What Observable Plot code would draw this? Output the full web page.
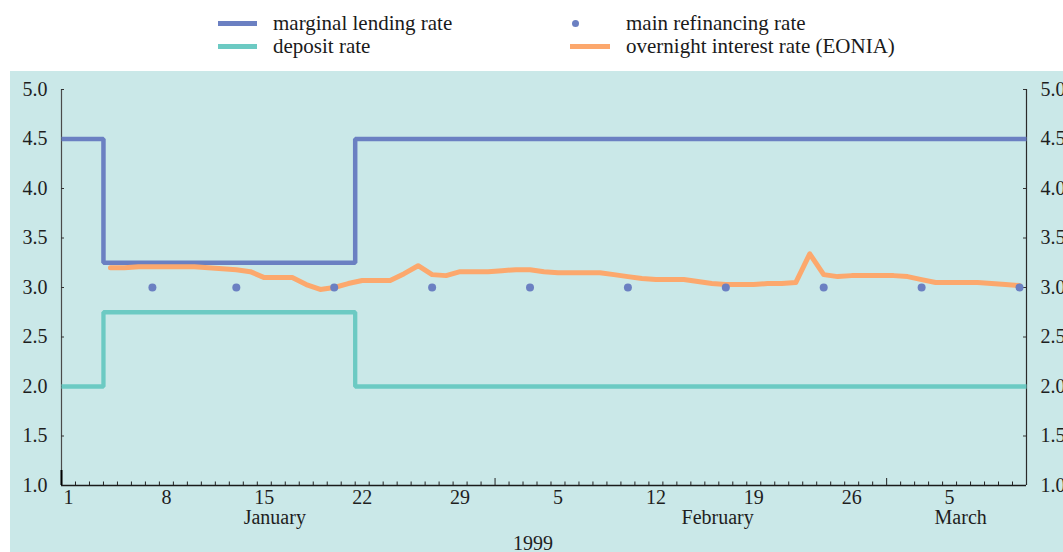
<!DOCTYPE html>
<html><head><meta charset="utf-8">
<script src="https://cdn.jsdelivr.net/npm/d3@7"></script>
<script src="https://cdn.jsdelivr.net/npm/@observablehq/plot@0.6"></script>
<style>
html,body{margin:0;padding:0;background:#fff;width:1063px;height:552px;overflow:hidden;
  font-family:"Liberation Serif","Times New Roman",serif;color:#1a1a1a;}
#wrap{position:relative;width:1063px;height:552px;overflow:hidden;}
.lg{position:absolute;font-size:21px;line-height:21px;white-space:nowrap;}
.sw{position:absolute;}
#title{position:absolute;left:0;top:-25px;font-size:20px;line-height:20px;white-space:nowrap;}
#panel{position:absolute;left:10px;top:71px;width:1053px;height:481px;background:#cae8e8;}
#panel svg{display:block;overflow:visible;}
</style></head>
<body><div id="wrap">
<div id="title">(percentages per annum; daily data)</div>
<div id="legend"></div>
<div id="panel"></div>
</div>
<script>
// ---------- data ----------
const stepDates = ["1999-01-01", "1999-01-04", "1999-01-22", "1999-03-11"];
const marginalLending = [4.5, 3.25, 4.5, 4.5];
const depositRate = [2.0, 2.75, 2.0, 2.0];

const mainRefiDates = ["1999-01-07", "1999-01-13", "1999-01-20", "1999-01-27", "1999-02-03",
  "1999-02-10", "1999-02-17", "1999-02-24", "1999-03-03", "1999-03-10"];
const mainRefiRate = [3.0, 3.0, 3.0, 3.0, 3.0, 3.0, 3.0, 3.0, 3.0, 3.0];

const eoniaFirstDay = "1999-01-04"; // daily values, 4 Jan – 10 Mar 1999
const eoniaJan = [3.20, 3.20, 3.21, 3.21, 3.21, 3.21, 3.21, 3.20, 3.19, 3.18, 3.16, 3.10, 3.10, 3.10,
  3.03, 2.98, 3.00, 3.04, 3.07, 3.07, 3.07, 3.14, 3.22, 3.13, 3.12, 3.16, 3.16, 3.16];
const eoniaFeb = [3.17, 3.18, 3.18, 3.16, 3.15, 3.15, 3.15, 3.15, 3.13, 3.11, 3.09, 3.08, 3.08, 3.08,
  3.06, 3.04, 3.03, 3.03, 3.03, 3.04, 3.04, 3.05, 3.34, 3.13, 3.11, 3.12, 3.12, 3.12];
const eoniaMar = [3.12, 3.11, 3.08, 3.05, 3.05, 3.05, 3.05, 3.04, 3.03, 3.02];

const yTicks = [1.0, 1.5, 2.0, 2.5, 3.0, 3.5, 4.0, 4.5, 5.0];
const yTickLabels = ["1.0", "1.5", "2.0", "2.5", "3.0", "3.5", "4.0", "4.5", "5.0"];
const dayLabelDates = ["1999-01-01", "1999-01-08", "1999-01-15", "1999-01-22", "1999-01-29",
  "1999-02-05", "1999-02-12", "1999-02-19", "1999-02-26", "1999-03-05"];
const dayLabels = ["1", "8", "15", "22", "29", "5", "12", "19", "26", "5"];
const monthStarts = ["1999-02-01", "1999-03-01"];
const monthLabels = ["January", "February", "March"];
const monthLabelAt = ["1999-01-16T06:00Z", "1999-02-16T22:00Z", "1999-03-06T07:00Z"];
const yearLabel = "1999";
const yearLabelAt = "1999-02-03T17:00Z";

const seriesNames = ["marginal lending rate", "deposit rate", "main refinancing rate", "overnight interest rate (EONIA)"];
const colors = {lending: "#6b80c2", deposit: "#6ccac3", refi: "#6b80c2", eonia: "#fca86d"};

// ---------- build ----------
const P = s => new Date(s.length === 10 ? s + "T00:00Z" : s);
const noon = d => d3.utcHour.offset(d, 12);
const start = P(stepDates[0]);
const end = P(stepDates[stepDates.length - 1]);

const lendingData = stepDates.map((d, i) => ({date: P(d), value: marginalLending[i]}));
const depositData = stepDates.map((d, i) => ({date: P(d), value: depositRate[i]}));
const refiData = mainRefiDates.map((d, i) => ({date: noon(P(d)), value: mainRefiRate[i]}));
const eoniaValues = [...eoniaJan, ...eoniaFeb, ...eoniaMar];
const eoniaDays = d3.utcDay.range(P(eoniaFirstDay), end);
const eoniaData = eoniaValues.map((v, i) => ({date: noon(eoniaDays[i]), value: v}));

const monthStartDates = monthStarts.map(P);
const dayTicks = d3.utcDay.range(d3.utcDay.offset(start, 1), end)
  .filter(d => !monthStartDates.some(m => +m === +d));
const dayLabelData = dayLabelDates.map((d, i) => ({date: noon(P(d)), text: dayLabels[i]}));
const monthLabelData = monthLabelAt.map((d, i) => ({date: P(d), text: monthLabels[i]}));
const yTickData = yTicks.map((v, i) => ({value: v, text: yTickLabels[i]}));
const innerTicks = yTickData.filter(d => d.value > yTicks[0]);

const FS = 20;
const ink = "#1e1e1e";

const chart = Plot.plot({
  width: 1053, height: 481,
  marginLeft: 51, marginRight: 37, marginTop: 18, marginBottom: 67,
  x: {type: "utc", domain: [start, end], axis: null},
  y: {domain: [yTicks[0], yTicks[yTicks.length - 1]], axis: null},
  style: {background: "transparent", fontFamily: "Liberation Serif, Times New Roman, serif", fontSize: FS + "px", color: ink, overflow: "visible"},
  marks: [
    // axes lines
    Plot.ruleX([start], {y1: yTicks[0], y2: yTicks[yTicks.length - 1], stroke: "#4a4a4a", strokeWidth: 1.2}),
    Plot.ruleX([end], {y1: yTicks[0], y2: yTicks[yTicks.length - 1], stroke: "#2a2a2a", strokeWidth: 1.2}),
    // y ticks (inward)
    Plot.ruleY(innerTicks, {y: "value", x1: start, x2: start, insetRight: -3, stroke: "#333"}),
    Plot.ruleY(innerTicks, {y: "value", x1: end, x2: end, insetLeft: -3, stroke: "#333"}),
    // y labels
    Plot.text(yTickData, {x: start, y: "value", text: "text", textAnchor: "end", dx: -14, fontSize: FS, fill: ink}),
    Plot.text(yTickData, {x: end, y: "value", text: "text", textAnchor: "start", dx: 14, fontSize: FS, fill: ink}),
    // series
    Plot.line(depositData, {x: "date", y: "value", curve: "step-after", stroke: colors.deposit, strokeWidth: 4.3, strokeLinecap: "butt", strokeLinejoin: "miter"}),
    Plot.line(lendingData, {x: "date", y: "value", curve: "step-after", stroke: colors.lending, strokeWidth: 4.5, strokeLinecap: "butt", strokeLinejoin: "miter"}),
    Plot.line(eoniaData, {x: "date", y: "value", stroke: colors.eonia, strokeWidth: 5, strokeLinecap: "round", strokeLinejoin: "round"}),
    Plot.dot(refiData, {x: "date", y: "value", r: 4, fill: colors.refi, stroke: "none"}),
    // x axis
    Plot.ruleY([yTicks[0]], {x1: start, x2: end, stroke: "#1a1a1a", strokeWidth: 1.3}),
    Plot.ruleX(dayTicks, {x: d => d, y1: yTicks[0], y2: yTicks[0], insetTop: -3.5, stroke: "#222"}),
    Plot.ruleX(monthStartDates, {x: d => d, y1: yTicks[0], y2: yTicks[0], insetTop: -7, stroke: "#222"}),
    Plot.ruleX([start], {x: d => d, y1: yTicks[0], y2: yTicks[0], insetTop: -15, stroke: "#000", strokeWidth: 2}),
    Plot.text(dayLabelData, {x: "date", y: () => yTicks[0], text: "text", dy: 12, fontSize: FS, fill: ink}),
    Plot.text(monthLabelData, {x: "date", y: () => yTicks[0], text: "text", dy: 32, fontSize: FS, fill: ink}),
    Plot.text([yearLabel], {x: () => P(yearLabelAt), y: () => yTicks[0], text: d => d, dy: 58, fontSize: FS, fill: ink})
  ]
});
document.getElementById("panel").appendChild(chart);

// ---------- legend (HTML, above the plot) ----------
const legend = document.getElementById("legend");
function add(html) { legend.insertAdjacentHTML("beforeend", html); }
add(`<div class="sw" style="left:218px;top:21px;width:39px;height:4.5px;background:${colors.lending}"></div>`);
add(`<div class="lg" style="left:273px;top:13px">${seriesNames[0]}</div>`);
add(`<div class="sw" style="left:218px;top:44px;width:39px;height:4.5px;background:${colors.deposit}"></div>`);
add(`<div class="lg" style="left:273px;top:36px">${seriesNames[1]}</div>`);
add(`<div class="sw" style="left:571.5px;top:19.5px;width:7px;height:7px;border-radius:50%;background:${colors.refi}"></div>`);
add(`<div class="lg" style="left:626px;top:13px">${seriesNames[2]}</div>`);
add(`<div class="sw" style="left:570px;top:43.5px;width:40px;height:5px;background:${colors.eonia}"></div>`);
add(`<div class="lg" style="left:626px;top:36px">${seriesNames[3]}</div>`);
</script>
</body></html>
